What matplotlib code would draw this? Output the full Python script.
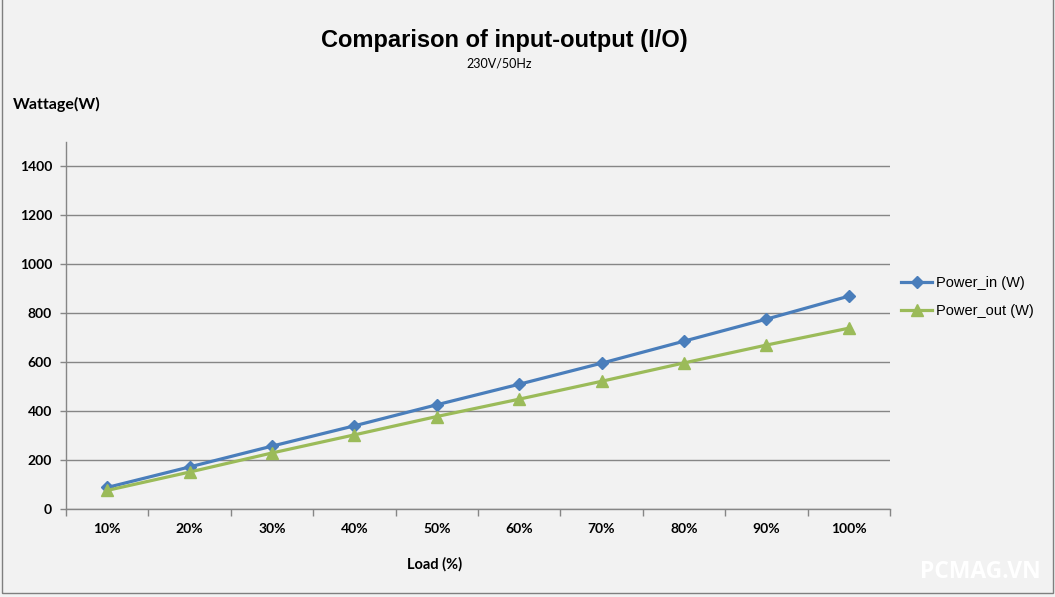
import numpy as np
import matplotlib.pyplot as plt
from matplotlib.patches import Rectangle

loads = ['10%', '20%', '30%', '40%', '50%', '60%', '70%', '80%', '90%', '100%']
power_in = [88, 172, 257, 340, 426, 510, 596, 686, 776, 870]
power_out = [76, 151, 229, 303, 378, 449, 522, 597, 670, 739]
yticks = [0, 200, 400, 600, 800, 1000, 1200, 1400]

W, H = 1055, 597
bg = '#f2f2f2'
grid_c = '#868686'

fig = plt.figure(figsize=(W / 100, H / 100), dpi=100, facecolor=bg)
ax = fig.add_axes([66 / W, (H - 509) / H, (890 - 66) / W, (509 - 142) / H])
ax.set_facecolor(bg)

x = np.arange(len(loads))
ax.plot(x, power_in, color='#4a7ebb', lw=2.3, marker='D', ms=6.5, label='Power_in (W)', zorder=3)
ax.plot(x, power_out, color='#9bbb59', lw=2.3, marker='^', ms=8, label='Power_out (W)', zorder=3)

ax.set_xlim(-0.5, len(loads) - 0.5)
ax.set_ylim(0, 1500)
ax.set_yticks(yticks)
ax.set_yticklabels([str(v) for v in yticks], fontfamily='Lato', fontweight='bold', fontsize=10)
ax.set_xticks(x)
ax.set_xticklabels(loads, fontfamily='Lato', fontweight='bold', fontsize=10)
ax.set_xticks(np.arange(-0.5, len(loads)), minor=True)
ax.tick_params(axis='x', which='major', length=0, pad=10)
ax.tick_params(axis='x', which='minor', length=5, color=grid_c, width=1)
ax.tick_params(axis='y', length=4, color=grid_c, width=1, pad=6)
ax.yaxis.grid(True, color=grid_c, lw=1)
ax.set_axisbelow(True)
for s in ['top', 'right']:
    ax.spines[s].set_visible(False)
for s in ['left', 'bottom']:
    ax.spines[s].set_color(grid_c)
    ax.spines[s].set_linewidth(1)

# titles and axis labels
fig.text(504 / W, 1 - 40 / H, 'Comparison of input-output (I/O)', ha='center', va='center',
         fontfamily='Liberation Sans', fontweight='bold', fontsize=17)
fig.text(499 / W, 1 - 63 / H, '230V/50Hz', ha='center', va='center', fontfamily='Lato', fontsize=9)
fig.text(13 / W, 1 - 104 / H, 'Wattage(W)', ha='left', va='center', fontfamily='Lato',
         fontweight='bold', fontsize=11.5)
fig.text(435 / W, 1 - 564 / H, 'Load (%)', ha='center', va='center', fontfamily='Lato',
         fontweight='bold', fontsize=10.5)

leg = ax.legend(loc='center left', bbox_to_anchor=(894 / W, 1 - 297 / H), bbox_transform=fig.transFigure,
                frameon=False, prop={'family': 'Liberation Sans', 'size': 10.5},
                handlelength=2.1, handletextpad=0.3, labelspacing=0.95, borderpad=0)

# watermark
fig.text(980 / W, 1 - 572 / H, 'PCMAG.VN', ha='center', va='center', color='white',
         fontfamily='Open Sans', fontweight='bold', fontsize=16.5)

# chart area border
fig.patches.append(Rectangle((2 / W, 4 / H), 1051 / W, 1.0, transform=fig.transFigure,
                             fill=False, edgecolor='#7f7f7f', lw=1))

fig.savefig('out.png', dpi=100, facecolor=bg)
